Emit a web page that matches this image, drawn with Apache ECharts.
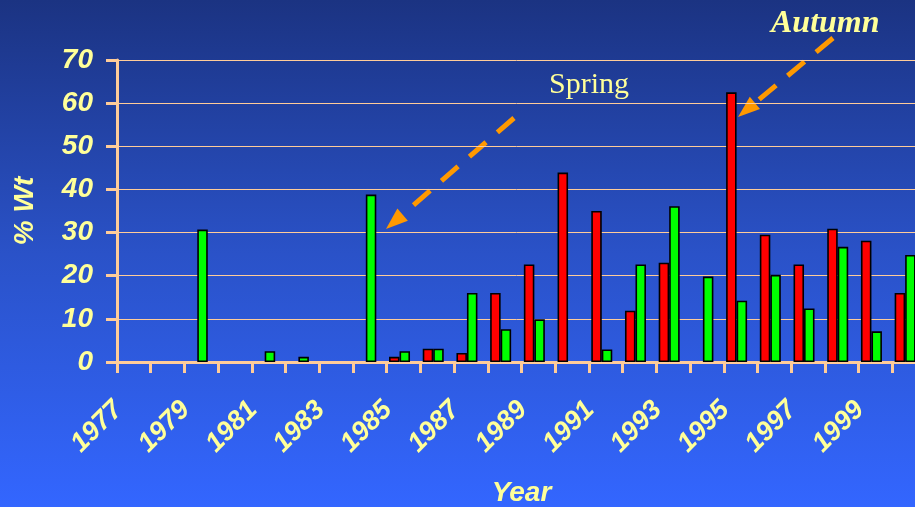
<!DOCTYPE html>
<html>
<head>
<meta charset="utf-8">
<script src="https://cdn.jsdelivr.net/npm/echarts@6/dist/echarts.min.js"></script>
<style>
  html, body { margin: 0; padding: 0; }
  #chart { width: 915px; height: 507px; }
</style>
</head>
<body>
<div id="chart"></div>
<script>
  // years on the x axis
  var years = ['1977', '1978', '1979', '1980', '1981', '1982', '1983', '1984',
    '1985', '1986', '1987', '1988', '1989', '1990', '1991', '1992',
    '1993', '1994', '1995', '1996', '1997', '1998', '1999', '2000'];
  // red bars (autumn)
  var autumn = [null, null, null, null, null, null, null, null,
    1.2, 3.1, 2.1, 16, 22.6, 43.9, 35, 11.9,
    23, null, 62.5, 29.5, 22.6, 30.9, 28.1, 16];
  // green bars (spring)
  var spring = [null, null, 30.7, null, 2.5, 1.2, null, 38.8,
    2.5, 3.1, 16, 7.6, 9.9, null, 2.9, 22.6,
    36.1, 19.8, 14.2, 20.2, 12.4, 26.7, 7.1, 24.8];
  var yMin = 0, yMax = 70, yStep = 10;

  var yellow = '#FFFF99';
  var peach = '#FFCC99';
  var orange = '#FF9900';
  var sans = '"Liberation Sans", Arial, sans-serif';
  var serif = '"Liberation Serif", "Times New Roman", serif';
  var axisFont = { color: yellow, fontFamily: sans, fontSize: 28, fontWeight: 'bold', fontStyle: 'italic' };

  function arrow(x1, y1, x2, y2) {
    // dashed shaft from (x1,y1) to the arrow tip (x2,y2)
    var dx = x2 - x1, dy = y2 - y1;
    var len = Math.sqrt(dx * dx + dy * dy);
    var ux = dx / len, uy = dy / len;
    var head = 22, half = 8;
    var bx = x2 - ux * head, by = y2 - uy * head;
    return [{
      type: 'line',
      shape: { x1: x1, y1: y1, x2: bx, y2: by },
      style: { stroke: orange, lineWidth: 5, lineDash: [22, 15] }
    }, {
      type: 'polygon',
      shape: { points: [[x2, y2], [bx - uy * half, by + ux * half], [bx + uy * half, by - ux * half]] },
      style: { fill: orange }
    }];
  }

  var chart = echarts.init(document.getElementById('chart'));
  var option = {
    backgroundColor: new echarts.graphic.LinearGradient(0, 0, 0, 1, [
      { offset: 0, color: '#1B3382' },
      { offset: 0.5, color: '#2A52C8' },
      { offset: 1, color: '#3366FF' }
    ]),
    animation: false,
    // plot runs a little past the right edge, as in the source slide.
    // grid 1 holds the bars, nudged left like the original pairs sit in their slots
    grid: [
      { left: 117, width: 809, top: 60, height: 302, containLabel: false, outerBoundsMode: 'none' },
      { left: 113, width: 809, top: 60, height: 302, containLabel: false, outerBoundsMode: 'none' }
    ],
    xAxis: [{
      type: 'category',
      gridIndex: 0,
      data: years,
      name: 'Year',
      nameLocation: 'middle',
      nameGap: 117,
      nameTextStyle: axisFont,
      axisLine: { lineStyle: { color: peach, width: 3 } },
      axisTick: { show: true, length: 11, interval: 0, lineStyle: { color: peach, width: 3 } },
      axisLabel: {
        interval: 1, rotate: 45, margin: 28, padding: [0, 22, 0, 0],
        color: yellow, fontFamily: sans, fontSize: 27, fontWeight: 'bold', fontStyle: 'italic'
      },
      splitLine: { show: false }
    }, {
      type: 'category',
      gridIndex: 1,
      data: years,
      show: false
    }],
    yAxis: [{
      type: 'value',
      gridIndex: 0,
      min: yMin, max: yMax, interval: yStep,
      name: '% Wt',
      nameLocation: 'middle',
      nameRotate: 90,
      nameGap: 78,
      nameTextStyle: axisFont,
      axisLine: { show: true, lineStyle: { color: peach, width: 3 } },
      axisTick: { show: true, length: 11, lineStyle: { color: peach, width: 3 } },
      axisLabel: Object.assign({ margin: 24 }, axisFont),
      splitLine: { lineStyle: { color: peach, width: 1 } }
    }, {
      type: 'value',
      gridIndex: 1,
      min: yMin, max: yMax, interval: yStep,
      show: false,
      splitLine: { show: false }
    }],
    series: [{
      name: 'Autumn',
      type: 'bar',
      xAxisIndex: 1,
      yAxisIndex: 1,
      data: autumn,
      barWidth: 10.5,
      barGap: '0%',
      itemStyle: { color: '#FF0000', borderColor: '#000', borderWidth: 1.6 }
    }, {
      name: 'Spring',
      type: 'bar',
      xAxisIndex: 1,
      yAxisIndex: 1,
      data: spring,
      barWidth: 10.5,
      barGap: '0%',
      itemStyle: { color: '#00FF00', borderColor: '#000', borderWidth: 1.6 }
    }],
    graphic: arrow(514, 118, 386, 229).concat(arrow(833, 38, 738, 117)).concat([{
      type: 'text',
      left: 549, top: 70,
      style: { text: 'Spring', fill: yellow, font: '30px ' + serif }
    }, {
      type: 'text',
      left: 771, top: 8,
      style: { text: 'Autumn', fill: yellow, font: 'italic bold 32px ' + serif }
    }])
  };
  chart.setOption(option);
</script>
</body>
</html>
